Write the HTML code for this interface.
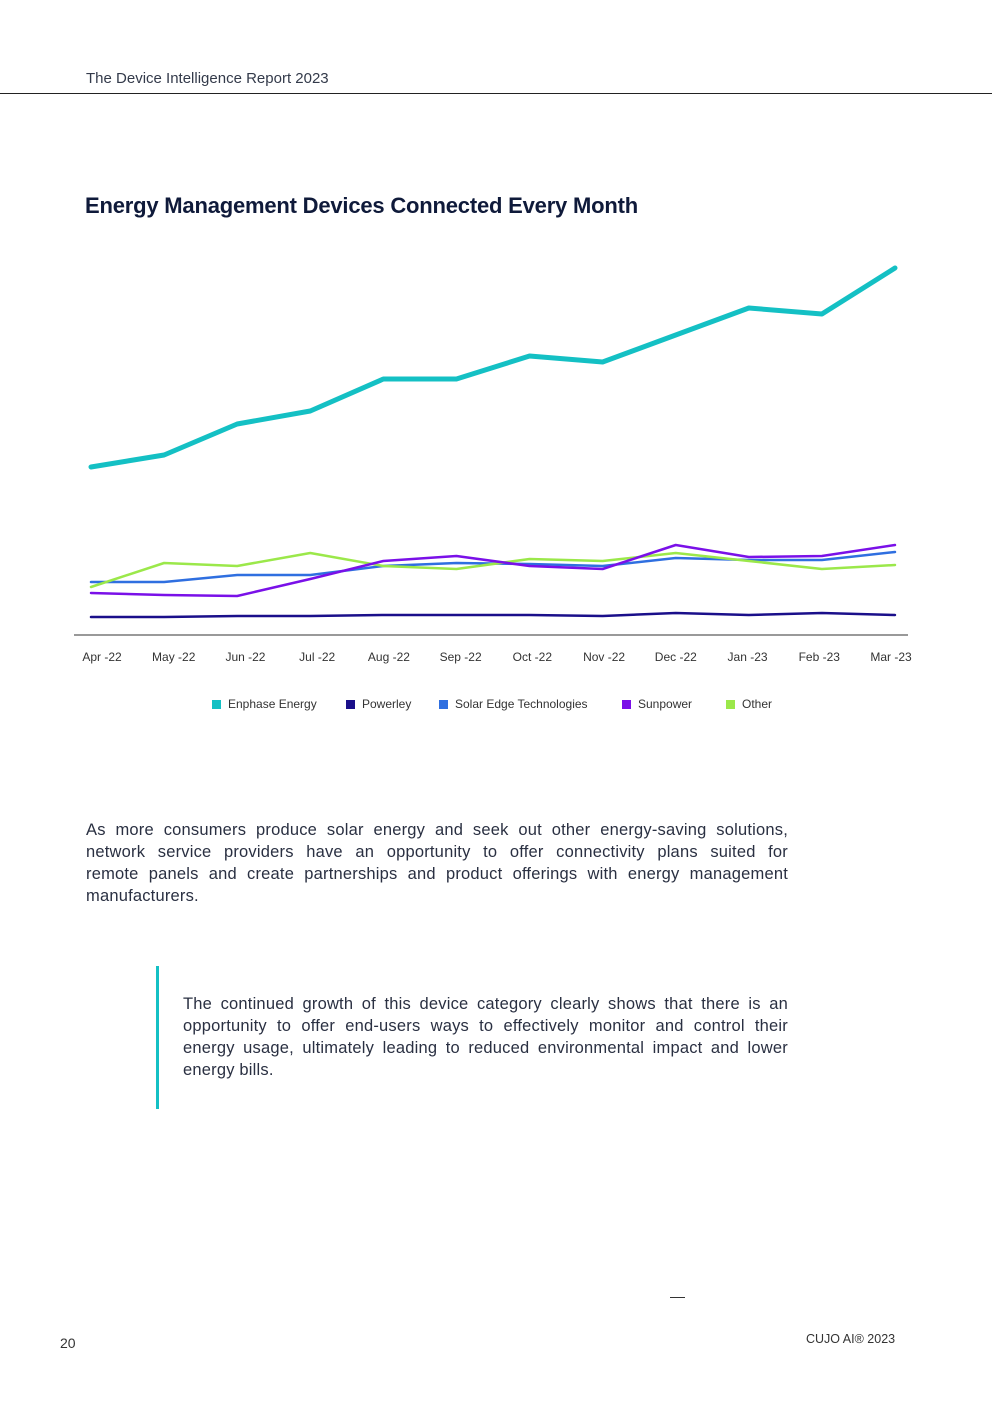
<!DOCTYPE html>
<html><head><meta charset="utf-8"><style>
body{margin:0;background:#fff;font-family:"Liberation Sans",sans-serif;color:#1a1f36}
.page{position:relative;width:992px;height:1403px;overflow:hidden}
.abs{position:absolute}
.j{display:block;text-align:justify;text-align-last:justify}
.l{display:block;text-align:left}
</style></head><body>
<div class="page">
<div class="abs" style="left:86px;top:70px;font-size:15px;color:#333a4a">The Device Intelligence Report 2023</div>
<div class="abs" style="left:0;top:93px;width:992px;height:1px;background:#222"></div>
<div class="abs" style="left:85px;top:193px;font-size:22px;font-weight:bold;color:#0f1a3a;letter-spacing:-0.2px">Energy Management Devices Connected Every Month</div>
<svg class="abs" style="left:0;top:0" width="992" height="730" id="chart"></svg>
<div class="abs" style="left:86px;top:819px;width:702px;font-size:16.5px;line-height:22px;color:#2a3042;letter-spacing:0.2px"><span class="j">As more consumers produce solar energy and seek out other energy-saving solutions,</span><span class="j">network service providers have an opportunity to offer connectivity plans suited for</span><span class="j">remote panels and create partnerships and product offerings with energy management</span><span class="l">manufacturers.</span></div>
<div class="abs" style="left:156px;top:966px;width:3px;height:143px;background:#14c0c4"></div>
<div class="abs" style="left:183px;top:993px;width:605px;font-size:16.5px;line-height:22px;color:#2a3042;letter-spacing:0.2px"><span class="j">The continued growth of this device category clearly shows that there is an</span><span class="j">opportunity to offer end-users ways to effectively monitor and control their</span><span class="j">energy usage, ultimately leading to reduced environmental impact and lower</span><span class="l">energy bills.</span></div>
<div class="abs" style="left:670px;top:1297px;width:15px;height:1px;background:#333"></div>
<div class="abs" style="left:60px;top:1335px;font-size:14px;color:#333">20</div>
<div class="abs" style="left:806px;top:1332px;font-size:12.5px;color:#333">CUJO AI® 2023</div>
</div>
<script>
const months=["Apr -22","May -22","Jun -22","Jul -22","Aug -22","Sep -22","Oct -22","Nov -22","Dec -22","Jan -23","Feb -23","Mar -23"];
const enphase=[168,180,211,224,256,256,279,273,300,327,321,367];
const powerley=[18,18,19,19,20,20,20,19,22,20,22,20];
const solarEdge=[53,53,60,60,69,72,71,69,77,75,75,83];
const sunpower=[42,40,39,56,74,79,69,66,90,78,79,90];
const other=[48,72,69,82,69,66,76,74,82,74,66,70];
const seriesNames=["Enphase Energy","Powerley","Solar Edge Technologies","Sunpower","Other"];
const seriesColors=["#14c0c4","#1a0f8a","#2f6fe0","#7a10e8","#9be84a"];
const seriesWidths=[5,2.5,2.5,2.5,2.5];

const NS="http://www.w3.org/2000/svg";
const svg=document.getElementById('chart');
const x=i=>91+i*(895-91)/(months.length-1);
const xl=i=>102+i*(891-102)/(months.length-1);
const y=v=>635-v;
function mk(t,a){const e=document.createElementNS(NS,t);for(const k in a)e.setAttribute(k,a[k]);svg.appendChild(e);return e;}
const ax=mk('line',{x1:74,x2:908,y1:635,y2:635,stroke:'#333','stroke-width':1});


months.forEach((m,i)=>{
  const t=mk('text',{x:xl(i),y:661,'text-anchor':'middle','font-size':12,fill:'#333','font-family':'Liberation Sans, sans-serif'});
  t.textContent=m;
  
  
});
const all=[enphase,powerley,solarEdge,sunpower,other];
[1,2,4,3,0].forEach(si=>{
  const d=all[si].map((v,i)=>(i?'L':'M')+x(i)+' '+y(v)).join(' ');
  const p=mk('path',{d:d,fill:'none',stroke:seriesColors[si],'stroke-width':seriesWidths[si],'stroke-linejoin':'round','stroke-linecap':'round'});
  
  
});
const legX=[212,346,439,622,726];
seriesNames.forEach((n,i)=>{
  const r=mk('rect',{x:legX[i],y:700,width:9,height:9,fill:seriesColors[i]});
  
  
  const t=mk('text',{x:legX[i]+16,y:708,'font-size':12,fill:'#333','font-family':'Liberation Sans, sans-serif'});
  t.textContent=n;
  
  
});
</script>
</body></html>
